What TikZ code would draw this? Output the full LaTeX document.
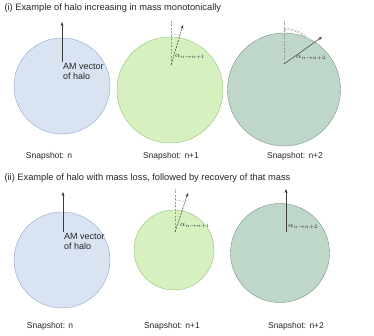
\documentclass[tikz,border=0pt]{standalone}
\usepackage{fontspec}
\setmainfont{Liberation Sans}
\usepackage{xcolor}
\usetikzlibrary{arrows.meta,positioning,calc}
\definecolor{haloblue}{RGB}{218,227,242}
\definecolor{haloblued}{RGB}{140,165,205}
\definecolor{halolime}{RGB}{214,240,192}
\definecolor{halolimed}{RGB}{150,190,125}
\definecolor{halosage}{RGB}{190,215,200}
\definecolor{halosaged}{RGB}{125,145,135}
\definecolor{vecgray}{RGB}{60,60,60}
\definecolor{refgray}{RGB}{150,150,150}
\tikzset{
  halo/.style={circle, inner sep=0pt, line width=0.4pt},
  haloA/.style={halo, draw=haloblued, fill=haloblue},
  haloB/.style={halo, draw=halolimed, fill=halolime},
  haloC/.style={halo, draw=halosaged, fill=halosage},
  vec/.style={-{Stealth[length=4pt,width=3pt]}, line width=0.5pt, color=vecgray},
  dvec/.style={vec, dash pattern=on 2pt off 1pt},
  ref/.style={dashed, line width=0.4pt, color=refgray, dash pattern=on 2pt off 1.5pt},
  refarc/.style={ref, draw=refgray},
  snap/.style={font=\fontsize{8.5}{10}\selectfont, color=black!85},
  ttl/.style={font=\fontsize{9.3}{11}\selectfont, anchor=west, color=black!85},
  lbl/.style={font=\fontsize{7.5}{8}\selectfont, anchor=west, inner sep=1pt, color=black!85},
  amlbl/.style={font=\fontsize{9}{10.5}\selectfont, anchor=north west, align=left, inner sep=1pt, color=black!85}
}
\begin{document}
\begin{tikzpicture}[x=1pt,y=1pt]
\useasboundingbox (0,0) rectangle (374,336);

%% ── ROW (i): increasing mass ───────────────────────────────────────
\node[ttl] (ti) at (1,328) {(i) Example of halo increasing in mass monotonically};

\node[haloA, minimum size=96pt]  (c1) at (62,250) {};
\node[haloB, minimum size=106pt] (c2) at (170,246) {};
\node[haloC, minimum size=113pt] (c3) at (284,246.5) {};

\node[snap] (s1) at (49,180)  {Snapshot: n};
\node[snap] (s2) at (171,180) {Snapshot: n+1};
\node[snap] (s3) at (295,180) {Snapshot: n+2};

%% vectors
\coordinate (o1) at (62,274);  \coordinate (t1) at (62,314);
\coordinate (o2) at (171,271); \coordinate (t2) at (183,311);
\coordinate (o3) at (284,272); \coordinate (t3) at (322,299);
\coordinate (r2) at (171,315); \coordinate (r3) at (284,315);

\draw[vec] (o1) -- (t1);
\node[amlbl] (am1) at (o1) {AM vector\\of halo};

\draw[ref] (o2) -- (r2);
\draw[refarc] ($(o2)+(90:31)$) arc[start angle=90, end angle=73, radius=31];
\draw[dvec] (o2) -- (t2);
\node[lbl] (a2) at (174,279) {$\alpha_{n\rightarrow n+1}$};

\draw[ref] (o3) -- (r3);
\draw[refarc, double=white, double distance=0.8pt] ($(o3)+(90:35)$) arc[start angle=90, end angle=37, radius=35];
\draw[vec] (o3) -- (t3);
\node[lbl] (a3) at (295,278) {$\alpha_{n\rightarrow n+2}$};

%% ── ROW (ii): mass loss and recovery ───────────────────────────────
\node[ttl] (tii) at (1,158) {(ii) Example of halo with mass loss, followed by recovery of that mass};

\node[haloA, minimum size=96pt] (c4) at (62,76) {};
\node[haloB, minimum size=80pt] (c5) at (174,86) {};
\node[haloC, minimum size=99pt] (c6) at (280,83) {};

\node[snap] (s4) at (50,10)  {Snapshot: n};
\node[snap] (s5) at (172,10) {Snapshot: n+1};
\node[snap] (s6) at (296,10) {Snapshot: n+2};

%% vectors
\coordinate (o4) at (63,104);  \coordinate (t4) at (63,144);
\coordinate (o5) at (175,104); \coordinate (t5) at (188,143);
\coordinate (o6) at (286,104); \coordinate (t6) at (286,147);
\coordinate (r5) at (175,147);

\draw[vec] (o4) -- (t4);
\node[amlbl] (am4) at (o4) {AM vector\\of halo};

\draw[ref] (o5) -- (r5);
\draw[refarc] ($(o5)+(90:32)$) arc[start angle=90, end angle=72, radius=32];
\draw[dvec] (o5) -- (t5);
\node[lbl] (a5) at (179,110) {$\alpha_{n\rightarrow n+1}$};

\draw[vec] (o6) -- (t6);
\node[lbl] (a6) at (287,109) {$\alpha_{n\rightarrow n+2}$};

\end{tikzpicture}
\end{document}
